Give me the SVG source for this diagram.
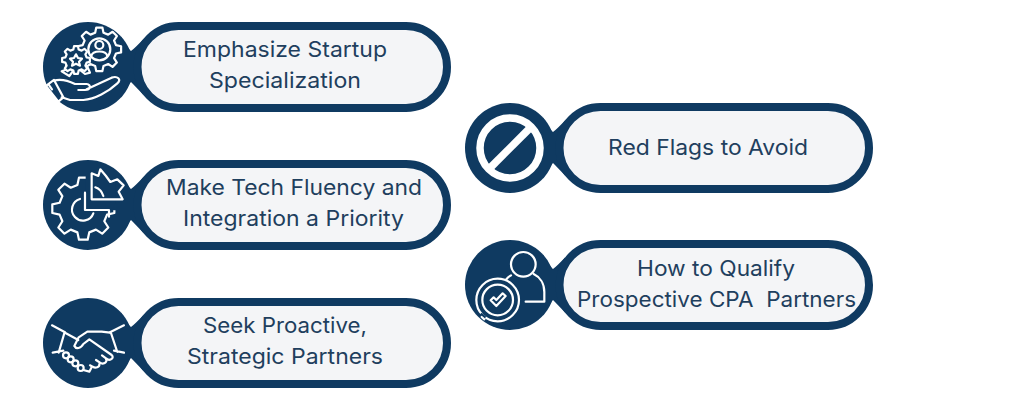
<svg xmlns="http://www.w3.org/2000/svg" xmlns:xlink="http://www.w3.org/1999/xlink" width="1024" height="417" viewBox="0 0 1024 417">
<style>
.ln{fill:none;stroke:#fff;stroke-width:2.2;stroke-linejoin:round;stroke-linecap:round;vector-effect:non-scaling-stroke}
.fl{fill:#0f3a61;stroke:#fff;stroke-width:2.2;stroke-linejoin:round;stroke-linecap:round;vector-effect:non-scaling-stroke}
.bg{fill:#0f3a61}
.pill{fill:#f4f5f7;stroke:#0f3a61;stroke-width:8}
text{font-family:Inter,"Liberation Sans",sans-serif;font-size:21.5px;fill:#1f3f5e;text-anchor:middle;white-space:pre}
</style>
<defs>
<path id="gear" vector-effect="non-scaling-stroke" d="M75.7-18.9 99-13.9 99 13.9 75.7 18.9 66.9 40.2 79.8 60.2 60.2 79.8 40.2 66.9 18.9 75.7 13.9 99-13.9 99-18.9 75.7-40.2 66.9-60.2 79.8-79.8 60.2-66.9 40.2-75.7 18.9-99 13.9-99-13.9-75.7-18.9-66.9-40.2-79.8-60.2-60.2-79.8-40.2-66.9-18.9-75.7-13.9-99 13.9-99 18.9-75.7 40.2-66.9 60.2-79.8 79.8-60.2 66.9-40.2Z"/>
<g id="base">
<circle class="bg" cx="45" cy="45" r="45"/>
<path class="bg" d="M78 14.500Q84 26 88 29Q92 26 100 17.500V72.500Q92 64 88 60Q84 64 78 75.500Z"/>
<rect class="pill" x="94.500" y="4" width="309.500" height="82" rx="41"/>
</g>
</defs>
<g id="connectors"/>

<g id="node-startup">
<use xlink:href="#base" href="#base" x="43" y="22"/>
<g transform="translate(30,10) scale(.3333)">
<use class="fl" href="#gear" xlink:href="#gear" transform="translate(208,118) scale(.66)"/>
<circle class="ln" cx="208" cy="118" r="33"/>
<circle class="ln" cx="208" cy="105" r="12"/>
<path class="ln" d="M184 138C188 120 228 120 232 138"/>
<path class="fl" d="M108 168 112 178 95 184 118 198 130 182ZM150 180 165 192 180 188 172 170 160 165Z"/>
<use class="fl" href="#gear" xlink:href="#gear" transform="translate(138,150) scale(.42)"/>
<path class="ln" d="M138 133 144 144 156 146 147 155 150 167 138 161 126 167 129 155 120 146 132 144Z"/>
<path class="ln" d="M72 212C95 205 115 212 135 222H170C185 224 182 240 165 240H145M170 238 245 203C262 197 276 208 262 220 235 245 195 268 160 270H120L95 262"/>
<path class="ln" d="M48 228 72 210 100 262 85 275 48 228ZM56 224 66 238"/>
</g>
</g>

<g id="node-tech">
<use href="#base" xlink:href="#base" x="43" y="160"/>
<g transform="translate(30,150) scale(.3333)">
<use class="ln" href="#gear" xlink:href="#gear" transform="translate(160,176) scale(.94)"/>
<path class="bg" d="M167 78H258V181H167Z"/>
<path class="ln" d="M165 128V180H237V200"/>
<path class="ln" d="M150 147A33 33 0 1 0 190 190"/>
<path class="ln" d="M185 70V148H278L266 125 281 106 262 88 241 96 228 78 211 58 205 78Z"/>
<path class="ln" d="M196 112C208 116 216 126 220 138"/>
</g>
</g>

<g id="node-proactive">
<use href="#base" xlink:href="#base" x="43" y="298"/>
<g transform="translate(30,290) scale(.3333)">
<path class="ln" d="M66 106 105 127M282 106 240 127M68 188 100 182M282 188 252 182M104 126 86 188M242 126 262 186"/>
<path class="ln" d="M105 128 145 150M240 128 215 125H172L146 142 133 168C138 178 152 176 160 162L178 148 245 195C255 205 238 215 228 205M228 205 216 196M228 207C234 218 218 224 210 218L198 210M208 222C210 232 196 236 188 230L180 226"/>
<circle class="ln" cx="108" cy="196" r="9"/><circle class="ln" cx="122" cy="208" r="9"/><circle class="ln" cx="136" cy="220" r="9"/><circle class="ln" cx="152" cy="234" r="9"/>
<path class="ln" d="M160 240 178 245 185 232"/>
</g>
</g>

<g id="node-redflags">
<use href="#base" xlink:href="#base" x="465" y="103"/>
<circle cx="510" cy="148" r="30" fill="none" stroke="#fff" stroke-width="7.500"/>
<path d="M489 169 531 127" stroke="#fff" stroke-width="7.500" fill="none"/>
</g>

<g id="node-qualify">
<use href="#base" xlink:href="#base" x="465" y="240"/>
<g transform="translate(455,232) scale(.3333)">
<circle class="ln" cx="205" cy="97" r="37"/>
<path class="ln" d="M168 130C155 138 152 142 150 148M236 126C255 135 268 155 268 180V209H212"/>
<circle class="fl" cx="128" cy="204" r="64"/>
<circle class="ln" cx="128" cy="204" r="46"/>
<path class="ln" d="M107 205 124 222 152 192 143 184 124 204 116 196Z"/>
<path class="bg" d="M72 250 86 262 94 254 80 242Z"/>
<path class="ln" d="M80 255 88 262"/>
</g>
</g>

<g id="labels">
<text x="285" y="57" textLength="204" lengthAdjust="spacingAndGlyphs">Emphasize Startup</text>
<text x="285" y="88" textLength="152" lengthAdjust="spacingAndGlyphs">Specialization</text>
<text x="294" y="195" textLength="256" lengthAdjust="spacingAndGlyphs">Make Tech Fluency and</text>
<text x="293.500" y="226" textLength="221" lengthAdjust="spacingAndGlyphs">Integration a Priority</text>
<text x="285" y="333" textLength="164" lengthAdjust="spacingAndGlyphs">Seek Proactive,</text>
<text x="285" y="364" textLength="196" lengthAdjust="spacingAndGlyphs">Strategic Partners</text>
<text x="708" y="155" textLength="200" lengthAdjust="spacingAndGlyphs">Red Flags to Avoid</text>
<text x="716" y="276" textLength="158" lengthAdjust="spacingAndGlyphs">How to Qualify</text>
<text x="716.500" y="307" textLength="279" lengthAdjust="spacingAndGlyphs">Prospective CPA  Partners</text>
</g>
</svg>
